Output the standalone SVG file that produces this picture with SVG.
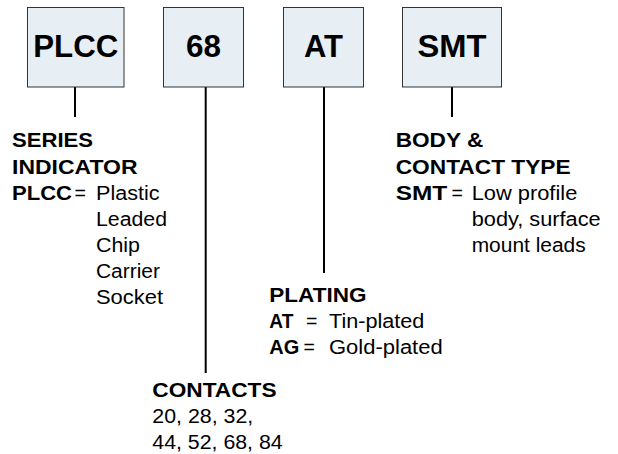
<svg xmlns="http://www.w3.org/2000/svg" width="618" height="454" viewBox="0 0 618 454">
<style>
.box{fill:#e7eef4;stroke:#333;stroke-width:1}
.bt{font-family:"Liberation Sans",Arial,sans-serif;font-weight:bold;font-size:31px;fill:#000;text-anchor:middle}
.h{font-family:"Liberation Sans",Arial,sans-serif;font-weight:bold;font-size:19.5px;fill:#000}
.r{font-family:"Liberation Sans",Arial,sans-serif;font-size:19.5px;fill:#000}
.conn line{stroke:#000;stroke-width:2}
</style>
<rect width="618" height="454" fill="#fff"/>
<g id="conn" class="conn">
<line x1="75" y1="87" x2="75" y2="117"/>
<line x1="205.7" y1="87" x2="205.7" y2="373"/>
<line x1="324" y1="87" x2="324" y2="273"/>
<line x1="452" y1="87" x2="452" y2="117"/>
</g>
<g id="node-plcc">
<rect class="box" x="27.5" y="7.5" width="96.5" height="79.5"/>
<text class="bt" x="75.8" y="56.5" textLength="85" lengthAdjust="spacingAndGlyphs">PLCC</text>
</g>
<g id="node-68">
<rect class="box" x="163.5" y="7.5" width="80" height="79.5"/>
<text class="bt" x="203.5" y="56.5" textLength="35" lengthAdjust="spacingAndGlyphs">68</text>
</g>
<g id="node-at">
<rect class="box" x="283.5" y="7.5" width="80" height="79.5"/>
<text class="bt" x="323.5" y="56.5" textLength="39" lengthAdjust="spacingAndGlyphs">AT</text>
</g>
<g id="node-smt">
<rect class="box" x="402.5" y="7.5" width="99" height="79.5"/>
<text class="bt" x="452" y="56.5" textLength="69" lengthAdjust="spacingAndGlyphs">SMT</text>
</g>
<g id="label-series">
<text class="h" x="12" y="147" textLength="81" lengthAdjust="spacingAndGlyphs">SERIES</text>
<text class="h" x="12" y="173.5" textLength="125.5" lengthAdjust="spacingAndGlyphs">INDICATOR</text>
<text class="h" x="12" y="200" textLength="60" lengthAdjust="spacingAndGlyphs">PLCC</text>
<text class="r" x="74.5" y="200">=</text>
<text class="r" x="96" y="200" textLength="63.5" lengthAdjust="spacingAndGlyphs">Plastic</text>
<text class="r" x="96" y="226" textLength="71" lengthAdjust="spacingAndGlyphs">Leaded</text>
<text class="r" x="96" y="252" textLength="44" lengthAdjust="spacingAndGlyphs">Chip</text>
<text class="r" x="96" y="278" textLength="64" lengthAdjust="spacingAndGlyphs">Carrier</text>
<text class="r" x="96" y="304" textLength="67" lengthAdjust="spacingAndGlyphs">Socket</text>
</g>
<g id="label-body">
<text class="h" x="395.7" y="147" textLength="87.6" lengthAdjust="spacingAndGlyphs">BODY &amp;</text>
<text class="h" x="395.7" y="173.5" textLength="175" lengthAdjust="spacingAndGlyphs">CONTACT TYPE</text>
<text class="h" x="395.7" y="200" textLength="51.6" lengthAdjust="spacingAndGlyphs">SMT</text>
<text class="r" x="451.5" y="200">=</text>
<text class="r" x="471.7" y="200" textLength="105.6" lengthAdjust="spacingAndGlyphs">Low profile</text>
<text class="r" x="471.7" y="226" textLength="129" lengthAdjust="spacingAndGlyphs">body, surface</text>
<text class="r" x="471.7" y="252" textLength="114" lengthAdjust="spacingAndGlyphs">mount leads</text>
</g>
<g id="label-plating">
<text class="h" x="269.3" y="302" textLength="97.3" lengthAdjust="spacingAndGlyphs">PLATING</text>
<text class="h" x="269.3" y="328" textLength="24" lengthAdjust="spacingAndGlyphs">AT</text>
<text class="r" x="306" y="328">=</text>
<text class="r" x="329" y="328" textLength="95.3" lengthAdjust="spacingAndGlyphs">Tin-plated</text>
<text class="h" x="269.3" y="354" textLength="30" lengthAdjust="spacingAndGlyphs">AG</text>
<text class="r" x="303.5" y="354">=</text>
<text class="r" x="329" y="354" textLength="113.7" lengthAdjust="spacingAndGlyphs">Gold-plated</text>
</g>
<g id="label-contacts">
<text class="h" x="152.3" y="397" textLength="124.3" lengthAdjust="spacingAndGlyphs">CONTACTS</text>
<text class="r" x="152.3" y="423" textLength="101" lengthAdjust="spacingAndGlyphs">20, 28, 32,</text>
<text class="r" x="152.3" y="449" textLength="130.4" lengthAdjust="spacingAndGlyphs">44, 52, 68, 84</text>
</g>
</svg>
